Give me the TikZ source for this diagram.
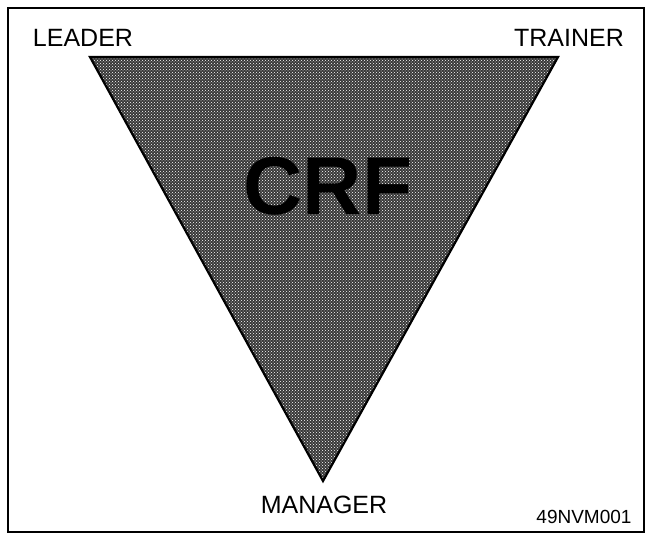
\documentclass[tikz,border=0pt]{standalone}
\usepackage{fontspec}
\setmainfont{Liberation Sans}
\usetikzlibrary{patterns}
\tikzstyle{label} = [anchor=base, inner sep=0pt, font=\fontsize{25}{25}\selectfont]
\tikzstyle{halftone} = [draw=black, line width=2.2pt, line join=miter, preaction={fill=black!78}, pattern=crosshatch dots, pattern color=white]

\begin{document}
\begin{tikzpicture}[x=1pt, y=1pt]
    \useasboundingbox (0,0) rectangle (645,533);
    % frame
    \draw[line width=1.8pt] (644,525) -- (8,525) -- (8,1) -- (644,1) -- cycle;

    % triangle
    \coordinate (tl) at (90,476);
    \coordinate (tr) at (558,476);
    \coordinate (bot) at (323,52);
    \draw[halftone] (tl) -- (tr) -- (bot) -- cycle;

    % corner labels
    \node[label] (leader) at (83,486) {LEADER};
    \node[label] (trainer) at (569,486) {TRAINER};
    \node[label] (manager) at (324,20) {MANAGER};

    % centre
    \node[label, font=\fontsize{82}{82}\selectfont\bfseries] (crf) at (328,318) {CRF};

    % figure number
    \node[label, font=\fontsize{19}{19}\selectfont] (figno) at (584,10) {49NVM001};
\end{tikzpicture}
\end{document}
